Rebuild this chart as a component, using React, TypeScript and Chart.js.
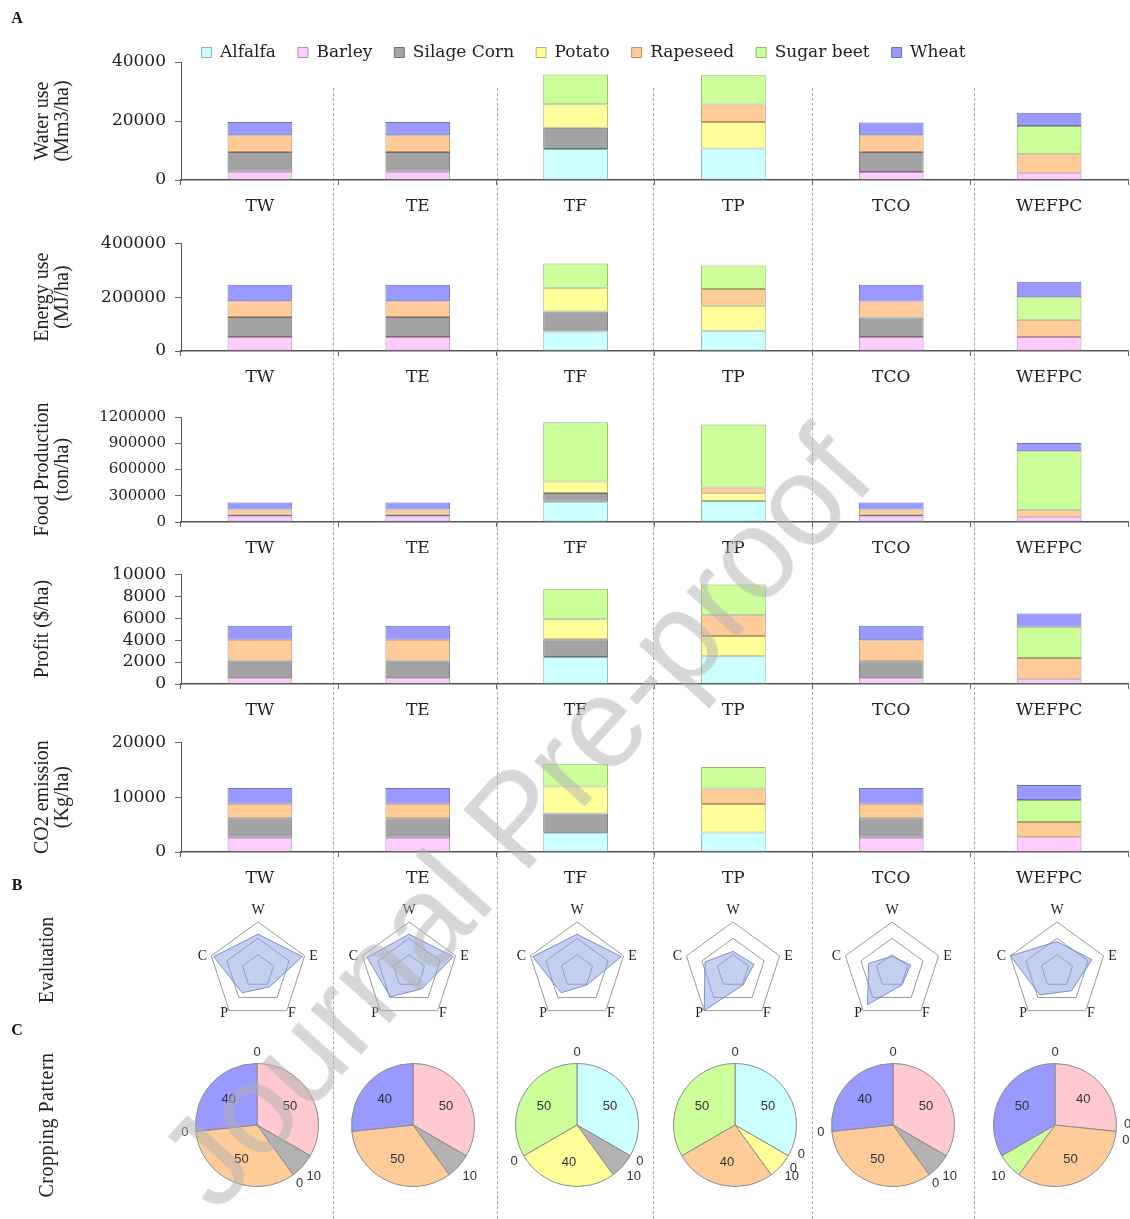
import React, { useEffect, useRef } from "react";
import { Chart, registerables } from "chart.js";
Chart.register(...registerables);

// ---------------- data ----------------
const scenarios = ["TW", "TE", "TF", "TP", "TCO", "WEFPC"];
const crops = ["Alfalfa", "Barley", "Silage Corn", "Potato", "Rapeseed", "Sugar beet", "Wheat"];

// rows = crops (same order as `crops`), columns = scenarios
const waterUse = [
  [0, 0, 10500, 10700, 0, 0],
  [2800, 2800, 0, 0, 2700, 2500],
  [6700, 6700, 7200, 0, 6800, 0],
  [0, 0, 8000, 9000, 0, 0],
  [5700, 5700, 0, 5900, 5700, 6200],
  [0, 0, 10100, 9900, 0, 9600],
  [4500, 4500, 0, 0, 4300, 4500],
];
const energyUse = [
  [0, 0, 72000, 75000, 0, 0],
  [52000, 52000, 0, 0, 52000, 52000],
  [74000, 74000, 75000, 0, 72000, 0],
  [0, 0, 88000, 93000, 0, 0],
  [59000, 59000, 0, 62000, 60000, 64000],
  [0, 0, 90000, 87000, 0, 83000],
  [61000, 61000, 0, 0, 62000, 58000],
];
const foodProduction = [
  [0, 0, 232000, 240000, 0, 0],
  [62000, 62000, 0, 0, 62000, 60000],
  [20000, 20000, 100000, 0, 20000, 0],
  [0, 0, 130000, 95000, 0, 0],
  [62000, 62000, 0, 60000, 62000, 75000],
  [0, 0, 678000, 720000, 0, 675000],
  [80000, 80000, 0, 0, 80000, 92000],
];
const profit = [
  [0, 0, 2460, 2520, 0, 0],
  [530, 530, 0, 0, 530, 470],
  [1610, 1610, 1610, 0, 1550, 0],
  [0, 0, 1820, 1850, 0, 0],
  [1900, 1900, 0, 1900, 1900, 1900],
  [0, 0, 2790, 2790, 0, 2850],
  [1260, 1260, 0, 0, 1320, 1200],
];
const co2Emission = [
  [0, 0, 3400, 3570, 0, 0],
  [2600, 2600, 0, 0, 2600, 2700],
  [3570, 3570, 3630, 0, 3570, 0],
  [0, 0, 4900, 5190, 0, 0],
  [2600, 2600, 0, 2820, 2600, 2770],
  [0, 0, 4150, 3920, 0, 3980],
  [2880, 2880, 0, 0, 2880, 2770],
];

const rowTitles = [
  ["Water use", "(Mm3/ha)"],
  ["Energy use", "(MJ/ha)"],
  ["Food Production", "(ton/ha)"],
  ["Profit ($/ha)"],
  ["CO2 emission", "(Kg/ha)"],
];
const axisMax = [40000, 400000, 1200000, 10000, 20000];
const axisStep = [20000, 200000, 300000, 2000, 10000];

// evaluation radar (0 = centre, 3 = outer ring)
const evalAxes = ["W", "E", "F", "P", "C"];
const evaluation = [
  [2.25, 2.85, 1.2, 1.65, 2.85],
  [2.25, 2.85, 1.35, 1.95, 2.7],
  [2.25, 2.85, 1.05, 1.65, 2.85],
  [1.2, 1.35, 1.05, 3.0, 1.8],
  [0.9, 1.2, 1.05, 2.55, 1.5],
  [1.8, 2.25, 1.5, 1.8, 3.0],
];

// cropping pattern (same crop order)
const croppingPattern = [
  [0, 50, 10, 0, 50, 0, 40],
  [0, 50, 10, 0, 50, 0, 40],
  [50, 0, 10, 40, 0, 50, 0],
  [50, 0, 0, 10, 40, 50, 0],
  [0, 50, 10, 0, 50, 0, 40],
  [0, 40, 0, 0, 50, 10, 50],
];
const pieShowZeros = [true, false, true, true, true, true];

// ---------------- styles ----------------
const FONT_TICK = "'DejaVu Serif', serif";
const FONT_TITLE = "'Liberation Serif', 'Times New Roman', serif";
const barColors = ["#CCFFFF", "#FFCCFF", "#A3A3A3", "#FFFF99", "#FFCC99", "#CCFF99", "#9999FF"];
const barBorders = ["#8AB3B3", "#B98FB9", "#707070", "#B3B36B", "#B8936C", "#8DB86A", "#6E6EBA"];
const pieColors = ["#CCFFFF", "#FFC9CF", "#B3B3B3", "#FFFF99", "#FFCC99", "#CCFF99", "#9999FF"];

const rowChartTop = [62, 238, 413, 569, 737];
const rowChartBottom = [180, 351, 522, 684, 852];
const rowTickSize = [17, 17, 15, 17, 17];
const barSeries = [waterUse, energyUse, foodProduction, profit, co2Emission];

const dividerX = [333, 497, 653, 812, 974];
const radarCX = [258, 409, 577, 733, 892, 1057];
const radarCY = 971;
const pieCX = [257, 413, 577, 735, 893, 1055];
const pieCY = 1125;

// ---------------- plugins ----------------
const radarLabelOffsets = [
  [0, -12],
  [9, 0],
  [5, 3],
  [-5, 3],
  [-9, 0],
];
const radarLabelPlugin = {
  id: "radarLabels",
  afterDraw(chart: any) {
    const s = chart.scales.r;
    const ctx = chart.ctx;
    ctx.save();
    ctx.font = `14px ${FONT_TITLE}`;
    ctx.fillStyle = "#222";
    ctx.textAlign = "center";
    ctx.textBaseline = "middle";
    chart.data.labels.forEach((lab: string, i: number) => {
      const p = s.getPointPositionForValue(i, s.max);
      const o = radarLabelOffsets[i];
      ctx.fillText(lab, p.x + o[0], p.y + o[1]);
    });
    ctx.restore();
  },
};

const pieLabelPlugin = {
  id: "pieLabels",
  afterDatasetsDraw(chart: any, _args: any, opts: any) {
    const meta = chart.getDatasetMeta(0);
    const values: number[] = chart.data.datasets[0].data;
    const ctx = chart.ctx;
    ctx.save();
    ctx.font = "13px 'Liberation Sans', sans-serif";
    ctx.fillStyle = "#333";
    ctx.textAlign = "center";
    ctx.textBaseline = "middle";
    const groups: Record<string, number[]> = {};
    meta.data.forEach((arc: any, i: number) => {
      if (values[i] === 0) {
        const key = arc.startAngle.toFixed(3);
        (groups[key] = groups[key] || []).push(i);
      }
    });
    meta.data.forEach((arc: any, i: number) => {
      const v = values[i];
      const { x, y, startAngle, endAngle, outerRadius } = arc.getProps(
        ["x", "y", "startAngle", "endAngle", "outerRadius"],
        true
      );
      let ang = (startAngle + endAngle) / 2;
      let d = outerRadius * 0.62;
      if (v === 0) {
        if (!opts.showZeros) return;
        const g = groups[startAngle.toFixed(3)];
        const j = g.indexOf(i);
        ang = startAngle + (j - (g.length - 1) / 2) * 0.22;
        d = outerRadius + 11;
      } else if (v < 20) {
        d = outerRadius + 15;
      }
      ctx.fillText(String(v), x + Math.cos(ang) * d, y + Math.sin(ang) * d);
    });
    ctx.restore();
  },
};

// ---------------- configs ----------------
function barGeometry(r: number) {
  const legend = r === 0;
  const topSpace = legend ? 40 : 14;
  const padLeft = legend ? 39 : 0;
  const height = topSpace + (rowChartBottom[r] - rowChartTop[r]) + 40;
  return { legend, topSpace, padLeft, height, top: rowChartTop[r] - topSpace };
}

function makeBarConfig(r: number) {
  const g = barGeometry(r);
  const values = barSeries[r];
  return {
    type: "bar",
    data: {
      labels: scenarios,
      datasets: crops.map((c, i) => ({
        label: c,
        data: values[i],
        backgroundColor: barColors[i],
        borderColor: barBorders[i],
        borderWidth: 1,
        borderSkipped: false,
        barPercentage: 0.41,
        categoryPercentage: 1,
      })),
    },
    options: {
      animation: false,
      responsive: false,
      events: [],
      layout: { padding: { top: 0, left: g.padLeft, right: 2, bottom: 0 } },
      plugins: {
        tooltip: { enabled: false },
        legend: {
          display: g.legend,
          position: "top",
          maxHeight: 40,
          labels: {
            boxWidth: 10,
            boxHeight: 10,
            padding: 22,
            color: "#222",
            font: { family: FONT_TICK, size: 17 },
          },
        },
      },
      scales: {
        x: {
          stacked: true,
          grid: { display: true, drawOnChartArea: false, offset: true, tickLength: 5, color: "#666" },
          border: { display: true, color: "#555", width: 1.5 },
          ticks: {
            color: "#222",
            font: { family: FONT_TICK, size: 17 },
            padding: 11,
            maxRotation: 0,
            autoSkip: false,
          },
          afterFit: (s: any) => {
            s.height = 40;
          },
        },
        y: {
          stacked: true,
          min: 0,
          max: axisMax[r],
          grid: { display: true, drawOnChartArea: false, tickLength: 6, color: "#666" },
          border: { display: true, color: "#555", width: 1 },
          ticks: {
            stepSize: axisStep[r],
            autoSkip: false,
            color: "#222",
            font: { family: FONT_TICK, size: rowTickSize[r] },
            padding: 9,
            callback: (v: any) => String(v),
          },
          title: {
            display: true,
            text: rowTitles[r],
            color: "#222",
            font: { family: FONT_TITLE, size: 20, lineHeight: 1 },
            padding: { top: 33 - g.padLeft, bottom: 0 },
          },
          afterFit: (s: any) => {
            s.width = 181 - g.padLeft;
          },
        },
      },
    },
  };
}

function makeRadarConfig(k: number) {
  return {
    type: "radar",
    data: {
      labels: evalAxes,
      datasets: [
        {
          data: evaluation[k],
          backgroundColor: "rgba(140,162,228,0.5)",
          borderColor: "rgba(105,125,205,0.85)",
          borderWidth: 1,
          pointRadius: 0,
        },
      ],
    },
    options: {
      animation: false,
      responsive: false,
      events: [],
      layout: { padding: 21 },
      plugins: { legend: { display: false }, tooltip: { enabled: false } },
      scales: {
        r: {
          min: 0,
          max: 3,
          ticks: { display: false, stepSize: 1 },
          grid: { color: "#9a9a9a", lineWidth: 1 },
          angleLines: { display: false },
          pointLabels: { display: false },
        },
      },
    },
    plugins: [radarLabelPlugin],
  };
}

function makePieConfig(k: number) {
  return {
    type: "pie",
    data: {
      labels: crops,
      datasets: [
        {
          data: croppingPattern[k],
          backgroundColor: pieColors,
          borderColor: "#8c8c8c",
          borderWidth: 1,
          hoverOffset: 0,
        },
      ],
    },
    options: {
      animation: false,
      responsive: false,
      events: [],
      layout: { padding: 28 },
      plugins: {
        legend: { display: false },
        tooltip: { enabled: false },
        pieLabels: { showZeros: pieShowZeros[k] },
      },
    },
    plugins: [pieLabelPlugin],
  };
}

// ---------------- components ----------------
function ChartCanvas(props: { left: number; top: number; width: number; height: number; config: any }) {
  const ref = useRef<HTMLCanvasElement | null>(null);
  useEffect(() => {
    if (!ref.current) return;
    const chart = new Chart(ref.current, props.config);
    return () => chart.destroy();
  }, []);
  return (
    <canvas
      ref={ref}
      width={props.width}
      height={props.height}
      style={{ position: "absolute", left: props.left, top: props.top, width: props.width, height: props.height }}
    />
  );
}

const sideLabel = (text: string, cx: number, cy: number, extra: any = {}) => (
  <div
    key={text}
    style={{
      position: "absolute",
      left: cx,
      top: cy,
      transform: "translate(-50%, -50%) rotate(-90deg)",
      whiteSpace: "nowrap",
      fontFamily: FONT_TITLE,
      fontSize: 20,
      lineHeight: "20px",
      color: "#222",
      ...extra,
    }}
  >
    {text}
  </div>
);

const panelLetter = (t: string, x: number, y: number) => (
  <div
    key={t}
    style={{
      position: "absolute",
      left: x,
      top: y,
      transform: "translate(-50%, -50%)",
      fontFamily: FONT_TITLE,
      fontWeight: "bold",
      fontSize: 16,
      color: "#111",
    }}
  >
    {t}
  </div>
);

export default function App() {
  return (
    <div
      style={{
        position: "absolute",
        left: 0,
        top: 0,
        width: 1130,
        height: 1219,
        overflow: "hidden",
        background: "#fff",
      }}
    >
      {dividerX.map((x) => (
        <div
          key={x}
          style={{
            position: "absolute",
            left: x,
            top: 88,
            height: 1219 - 88,
            width: 0,
            borderLeft: "1px dashed #a8a8a8",
          }}
        />
      ))}
      {barSeries.map((_, r) => {
        const g = barGeometry(r);
        return <ChartCanvas key={"bar" + r} left={0} top={g.top} width={1130} height={g.height} config={makeBarConfig(r)} />;
      })}
      {evaluation.map((_, k) => (
        <ChartCanvas
          key={"radar" + k}
          left={radarCX[k] - 70}
          top={radarCY - 70}
          width={140}
          height={140}
          config={makeRadarConfig(k)}
        />
      ))}
      {croppingPattern.map((_, k) => (
        <ChartCanvas
          key={"pie" + k}
          left={pieCX[k] - 90}
          top={pieCY - 90}
          width={180}
          height={180}
          config={makePieConfig(k)}
        />
      ))}
      {panelLetter("A", 17, 18)}
      {panelLetter("B", 17, 885)}
      {panelLetter("C", 17, 1030)}
      {sideLabel("Evaluation", 46, 960)}
      {sideLabel("Cropping Pattern", 46, 1125, { letterSpacing: "0.5px" })}
      <div
        style={{
          position: "absolute",
          left: 515,
          top: 818,
          transform: "translate(-50%, -50%) rotate(-48deg)",
          whiteSpace: "nowrap",
          fontFamily: "'Liberation Sans', Arial, sans-serif",
          fontSize: 128,
          lineHeight: "128px",
          color: "rgba(175,175,175,0.5)",
          pointerEvents: "none",
        }}
      >
        Journal Pre-proof
      </div>
    </div>
  );
}
